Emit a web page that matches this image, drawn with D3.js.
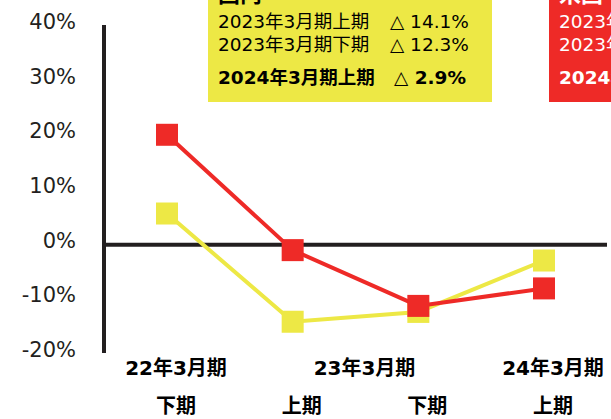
<!DOCTYPE html>
<html>
<head>
<meta charset="utf-8">
<script src="https://cdn.jsdelivr.net/npm/d3@7"></script>
<style>
  body { margin: 0; background: #fff; }
  svg { display: block; font-family: "DejaVu Sans", "Noto Sans CJK JP", sans-serif; }
</style>
</head>
<body>
<div id="chart"></div>
<script>
// periods on the x axis
const periods = ["22年3月期下期", "23年3月期上期", "23年3月期下期", "24年3月期上期"];
const halfLabels = ["下期", "上期", "下期", "上期"];
const yearLabels = ["22年3月期", "23年3月期", "24年3月期"];
const yearAt = [0, 1.5, 3];

// growth rates (%)
const domestic = [5.7, -14.1, -12.3, -2.9];
const overseas = [20.1, -1.0, -11.2, -8.0];

const yTicks = [40, 30, 20, 10, 0, -10, -20];

// text in the two boxes
const domesticTitle = "国内";
const overseasTitle = "米国";
const domesticRows = [
    ["2023年3月期上期", "△ 14.1%"],
    ["2023年3月期下期", "△ 12.3%"],
    ["2024年3月期上期", "△ 2.9%"]
];
const overseasRows = [
    ["2023年3月期上期", "△ 1.0%"],
    ["2023年3月期下期", "△ 11.2%"],
    ["2024年3月期上期", "△ 8.0%"]
];

const width = 611;
const height = 419;
const yellow = "#ede845";
const red = "#ee2a27";
const ink = "#231f20";

const svg = d3.select("#chart")
    .append("svg")
    .attr("width", width)
    .attr("height", height);

const x = d3.scaleLinear().domain([0, periods.length - 1]).range([167, 544]);
const y = d3.scaleLinear().domain([-20, 40]).range([354, 26]);

// y axis
svg.append("line")
    .attr("x1", 104).attr("x2", 104)
    .attr("y1", 25).attr("y2", 353)
    .attr("stroke", ink)
    .attr("stroke-width", 4);

svg.selectAll(".ytick")
    .data(yTicks)
    .enter()
    .append("text")
    .attr("class", "ytick")
    .attr("x", 76)
    .attr("y", d => y(d) + 3)
    .attr("text-anchor", "end")
    .style("font-size", "21px")
    .attr("fill", ink)
    .text(d => d + "%");

// zero line
svg.append("line")
    .attr("x1", 104).attr("x2", 607)
    .attr("y1", y(0)).attr("y2", y(0))
    .attr("stroke", ink)
    .attr("stroke-width", 4);

// x labels
svg.selectAll(".year")
    .data(yearLabels)
    .enter()
    .append("text")
    .attr("class", "year")
    .attr("x", (d, i) => x(yearAt[i]) + 9)
    .attr("y", 375)
    .attr("text-anchor", "middle")
    .style("font-size", "20px")
    .style("font-weight", "bold")
    .attr("fill", "#000")
    .text(d => d);

svg.selectAll(".half")
    .data(halfLabels)
    .enter()
    .append("text")
    .attr("class", "half")
    .attr("x", (d, i) => x(i) + 9)
    .attr("y", 413)
    .attr("text-anchor", "middle")
    .style("font-size", "20px")
    .style("font-weight", "bold")
    .attr("fill", "#000")
    .text(d => d);

// series
const line = d3.line()
    .x((d, i) => x(i))
    .y(d => y(d));

function drawSeries(values, color) {
    svg.append("path")
        .datum(values)
        .attr("d", line)
        .attr("fill", "none")
        .attr("stroke", color)
        .attr("stroke-width", 4);

    svg.selectAll(null)
        .data(values)
        .enter()
        .append("rect")
        .attr("x", (d, i) => x(i) - 11)
        .attr("y", d => y(d) - 11)
        .attr("width", 22)
        .attr("height", 22)
        .attr("fill", color);
}

drawSeries(domestic, yellow);
drawSeries(overseas, red);

// callout boxes (cut by the top of the picture)
function drawBox(x0, x1, color, textColor, title, rows) {
    const g = svg.append("g");
    g.append("rect")
        .attr("x", x0).attr("y", 0)
        .attr("width", x1 - x0).attr("height", 102)
        .attr("fill", color);
    g.append("text")
        .attr("x", x0 + 10).attr("y", 2)
        .style("font-size", "22px")
        .style("font-weight", "bold")
        .attr("fill", textColor)
        .text(title);
    const rowY = [28, 51, 84];
    rows.forEach((r, i) => {
        const bold = i === rows.length - 1;
        g.append("text")
            .attr("x", x0 + 10).attr("y", rowY[i])
            .style("font-size", "18.5px")
            .style("font-weight", bold ? "bold" : "normal")
            .attr("fill", textColor)
            .text(r[0]);
        g.append("text")
            .attr("x", x0 + (bold ? 186 : 182)).attr("y", rowY[i])
            .style("font-size", "18.5px")
            .style("font-weight", bold ? "bold" : "normal")
            .attr("fill", textColor)
            .text(r[1]);
    });
}

drawBox(208, 492, yellow, "#000", domesticTitle, domesticRows);
drawBox(549, 720, red, "#fff", overseasTitle, overseasRows);
</script>
</body>
</html>
